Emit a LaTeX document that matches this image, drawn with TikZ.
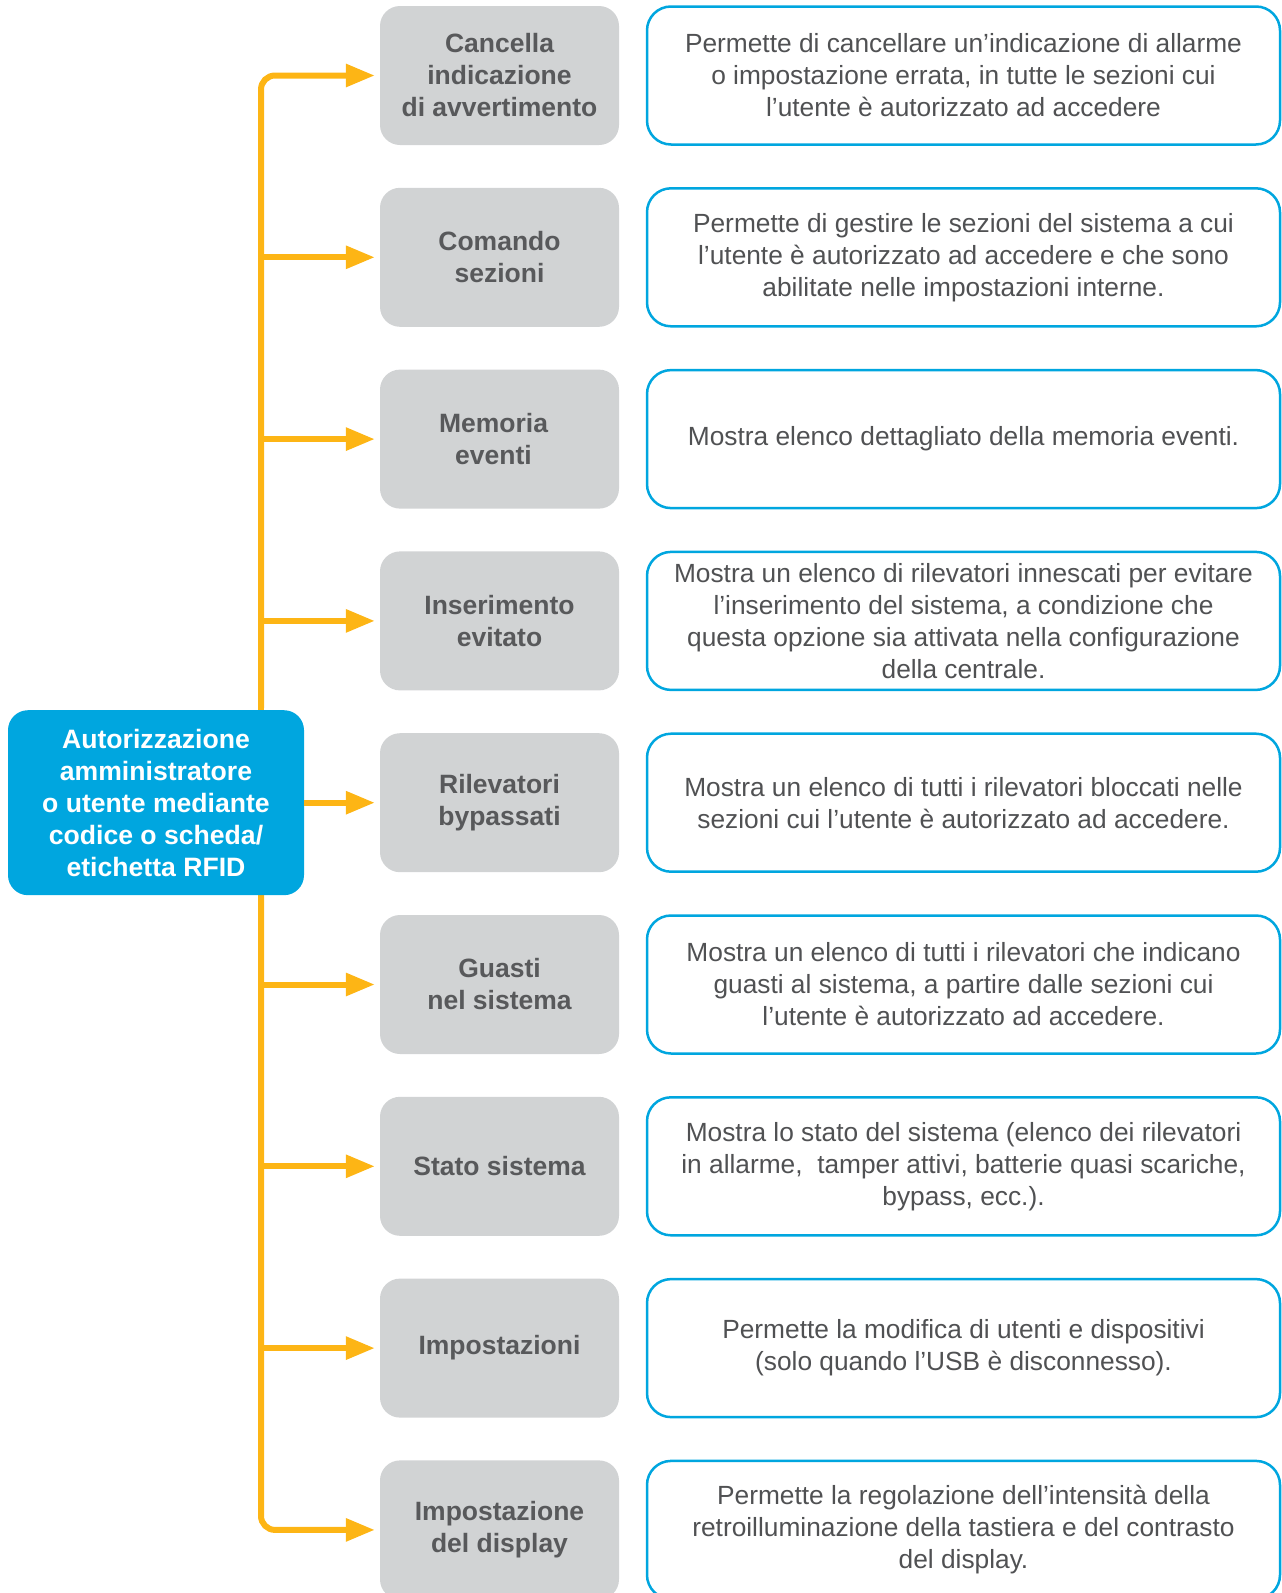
\documentclass[tikz,border=0pt]{standalone}
\usepackage{fontspec}
\setmainfont{Liberation Sans}
\usetikzlibrary{arrows.meta}
\definecolor{orng}{HTML}{FDB515}
\definecolor{blu}{HTML}{00A6DF}
\definecolor{gry}{HTML}{D1D3D4}
\definecolor{gtxt}{HTML}{58595B}
\definecolor{dtxt}{HTML}{505153}
\begin{document}
\begin{tikzpicture}[x=1pt,y=-1pt,
  graybox/.style={fill=gry, rounded corners=20pt, minimum width=239pt, minimum height=139pt,
    align=center, text=gtxt, font=\fontsize{26.5}{32}\selectfont\bfseries, inner sep=0pt},
  descbox/.style={draw=blu, line width=2.5pt, fill=white, rounded corners=24pt, minimum width=633pt,
    minimum height=138pt, align=center, text=dtxt, font=\fontsize{26.3}{32}\selectfont, inner sep=0pt},
  mainbox/.style={fill=blu, rounded corners=20pt, minimum width=296pt, minimum height=185pt,
    align=center, text=white, font=\fontsize{26.6}{32}\selectfont\bfseries, inner sep=0pt},
  arr/.style={draw=orng, line width=6pt, -{Triangle[length=29pt,width=22pt]}, shorten >=5pt},
  trunk/.style={draw=orng, line width=6pt, rounded corners=14pt}]
\useasboundingbox (0,0) rectangle (1282,1593);
\def\rA{75.5}
\def\rB{257.3}
\def\rC{439.1}
\def\rD{620.9}
\def\rE{802.7}
\def\rF{984.5}
\def\rG{1166.3}
\def\rH{1348.1}
\def\rI{1529.9}
% trunk coordinates
\coordinate (bt) at (261,708);
\coordinate (bb) at (261,893);
\coordinate (t2) at (261,\rB);
\coordinate (t3) at (261,\rC);
\coordinate (t4) at (261,\rD);
\coordinate (t6) at (261,\rF);
\coordinate (t7) at (261,\rG);
\coordinate (t8) at (261,\rH);
% gray boxes
\node[graybox] (g1) at (499.5,\rA) {Cancella\\indicazione\\di avvertimento};
\node[graybox] (g2) at (499.5,\rB) {Comando\\sezioni};
\node[graybox] (g3) at (499.5,\rC) {\hspace*{-12pt}Memoria\\\hspace*{-12pt}eventi};
\node[graybox] (g4) at (499.5,\rD) {Inserimento\\evitato};
\node[graybox] (g5) at (499.5,\rE) {Rilevatori\\bypassati};
\node[graybox] (g6) at (499.5,\rF) {Guasti\\nel sistema};
\node[graybox] (g7) at (499.5,\rG) {Stato sistema};
\node[graybox] (g8) at (499.5,\rH) {Impostazioni};
\node[graybox] (g9) at (499.5,\rI) {Impostazione\\del display};
% description boxes
\node[descbox] (d1) at (963.5,\rA) {Permette di cancellare un’indicazione di allarme\\o impostazione errata, in tutte le sezioni cui\\l’utente è autorizzato ad accedere};
\node[descbox] (d2) at (963.5,\rB) {Permette di gestire le sezioni del sistema a cui\\l’utente è autorizzato ad accedere e che sono\\abilitate nelle impostazioni interne.};
\node[descbox] (d3) at (963.5,\rC) {Mostra elenco dettagliato della memoria eventi.};
\node[descbox] (d4) at (963.5,\rD) {Mostra un elenco di rilevatori innescati per evitare\\l’inserimento del sistema, a condizione che\\questa opzione sia attivata nella configurazione\\della centrale.};
\node[descbox] (d5) at (963.5,\rE) {Mostra un elenco di tutti i rilevatori bloccati nelle\\sezioni cui l’utente è autorizzato ad accedere.};
\node[descbox] (d6) at (963.5,\rF) {Mostra un elenco di tutti i rilevatori che indicano\\guasti al sistema, a partire dalle sezioni cui\\l’utente è autorizzato ad accedere.};
\node[descbox] (d7) at (963.5,\rG) {Mostra lo stato del sistema (elenco dei rilevatori\\in allarme,\ \ tamper attivi, batterie quasi scariche,\\bypass, ecc.).};
\node[descbox] (d8) at (963.5,\rH) {Permette la modifica di utenti e dispositivi\\(solo quando l’USB è disconnesso).};
\node[descbox] (d9) at (963.5,\rI) {Permette la regolazione dell’intensità della\\retroilluminazione della tastiera e del contrasto\\del display.};
% connectors
\draw[trunk] (bt) -- (bb);
\draw[trunk, arr] (bt) |- (g1.west);
\draw[trunk, arr] (bb) |- (g9.west);
\draw[arr] (t2) -- (g2.west);
\draw[arr] (t3) -- (g3.west);
\draw[arr] (t4) -- (g4.west);
\draw[arr] (t6) -- (g6.west);
\draw[arr] (t7) -- (g7.west);
\draw[arr] (t8) -- (g8.west);
% main box
\node[mainbox] (m) at (156,802.7) {Autorizzazione\\amministratore\\o utente mediante\\codice o scheda/\\etichetta RFID};
\draw[arr] (m.east) -- (g5.west);
\end{tikzpicture}
\end{document}
